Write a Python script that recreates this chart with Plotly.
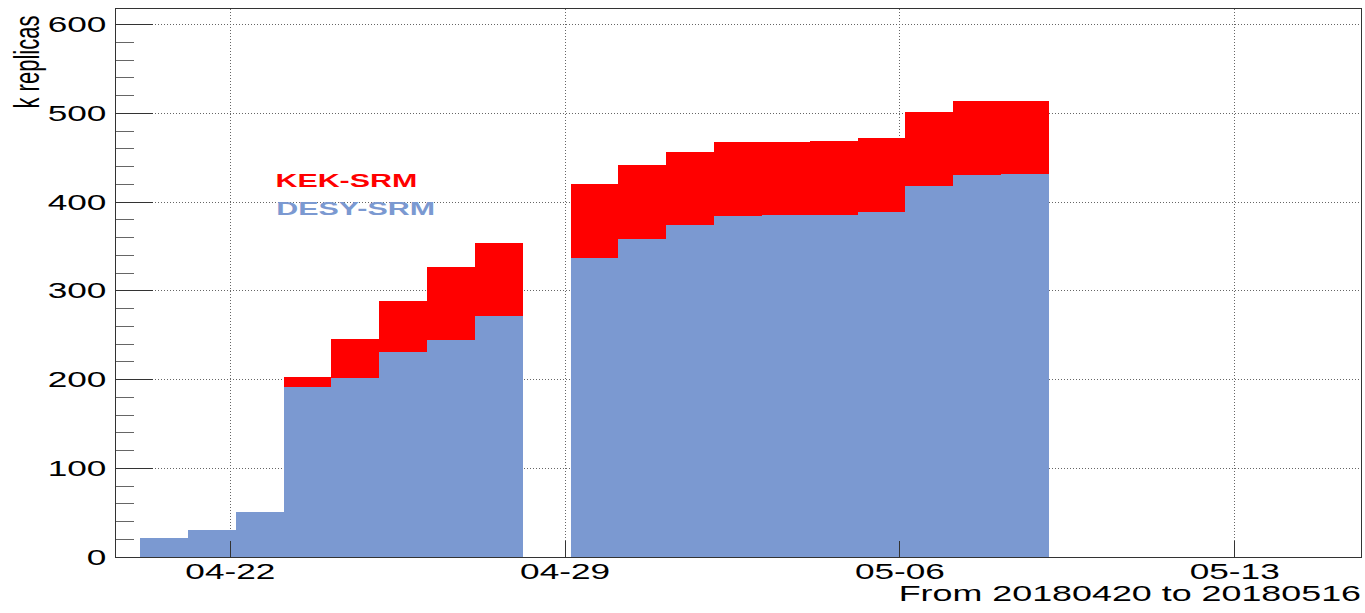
import plotly.graph_objects as go

# ---- data ----
days = ["2018-04-20", "2018-04-21", "2018-04-22", "2018-04-23", "2018-04-24",
        "2018-04-25", "2018-04-26", "2018-04-27", "2018-04-28", "2018-04-29",
        "2018-04-30", "2018-05-01", "2018-05-02", "2018-05-03", "2018-05-04",
        "2018-05-05", "2018-05-06", "2018-05-07", "2018-05-08"]
desy_srm = [21.4, 30.1, 50.4, 191.3, 201.8, 231.1, 244.6, 271.7, None,
            337.1, 358.2, 373.6, 384.1, 385.0, 385.0, 388.6, 417.9, 430.3, 431.1]
kek_srm = [0, 0, 0, 11.3, 43.3, 57.5, 82.0, 81.6, None,
           83.4, 83.4, 82.3, 83.1, 82.2, 83.3, 83.1, 83.1, 83.8, 83.0]
tick_days = ["2018-04-22", "2018-04-29", "2018-05-06", "2018-05-13"]
tick_text = ["04-22", "04-29", "05-06", "05-13"]
y_ticks = [0, 100, 200, 300, 400, 500, 600]

BLUE = "#7B99D1"
RED = "#FF0000"
FONT = "Liberation Sans, Arial, Helvetica, sans-serif"
DAY_MS = 86400000
BAR_OFFSET_MS = int(0.113 * DAY_MS)

fig = go.Figure()
fig.add_trace(go.Bar(x=days, y=desy_srm, name="DESY-SRM", marker=dict(color=BLUE, line=dict(width=0)),
                     width=DAY_MS, offset=BAR_OFFSET_MS))
fig.add_trace(go.Bar(x=days, y=kek_srm, name="KEK-SRM", marker=dict(color=RED, line=dict(width=0)),
                     width=DAY_MS, offset=BAR_OFFSET_MS))

W, H = 1365, 613
L, R, T, B = 116, 4, 9, 56

GRID_DASH = "1px,2px"
fig.update_layout(
    width=W, height=H,
    margin=dict(l=L, r=R, t=T, b=B, pad=0),
    barmode="stack", bargap=0,
    showlegend=False,
    plot_bgcolor="white", paper_bgcolor="white",
    font=dict(family=FONT, size=22, color="black"),
    xaxis=dict(
        type="date",
        range=["2018-04-19 14:38", "2018-05-15 15:22"],
        tickvals=tick_days, ticktext=tick_text,
        ticks="inside", ticklen=16, tickwidth=1.3, tickcolor="#333",
        showgrid=True, gridcolor="#666", griddash=GRID_DASH, gridwidth=1,
        showline=True, linecolor="#333", linewidth=1.3, mirror=True,
        tickfont=dict(size=22, family=FONT),
        ticklabelstandoff=-6,
        zeroline=False,
    ),
    yaxis=dict(
        range=[0, 617.5],
        tickvals=y_ticks,
        ticks="inside", ticklen=37, tickwidth=1.3, tickcolor="#333",
        minor=dict(dtick=20, tick0=0, ticks="inside", ticklen=18, tickwidth=1.3,
                   tickcolor="#666", showgrid=False),
        showgrid=True, gridcolor="#666", griddash=GRID_DASH, gridwidth=1,
        showline=True, linecolor="#333", linewidth=1.3, mirror=True,
        tickfont=dict(size=22, family=FONT),
        ticklabelstandoff=4,
        zeroline=False,
    ),
)

plot_h = H - T - B
plot_w = W - L - R

def px_y(y):
    return (H - B - y) / plot_h

def px_x(x):
    return (x - L) / plot_w

annotations = [
    dict(text="k replicas", textangle=-90, x=px_x(27), y=px_y(62.5), xref="paper", yref="paper",
         xanchor="center", yanchor="middle", showarrow=False, font=dict(size=22, family=FONT)),
    dict(text="From 20180420 to 20180516", x=px_x(1130), y=px_y(594), xref="paper", yref="paper",
         xanchor="center", yanchor="middle", showarrow=False, font=dict(size=22, family=FONT)),
    dict(text="<b>KEK-SRM</b>", x=px_x(346), y=px_y(180), xref="paper", yref="paper",
         xanchor="center", yanchor="middle", showarrow=False, font=dict(size=19, family=FONT, color=RED)),
    dict(text="<b>DESY-SRM</b>", x=px_x(355), y=px_y(208), xref="paper", yref="paper",
         xanchor="center", yanchor="middle", showarrow=False, font=dict(size=19, family=FONT, color=BLUE)),
]
fig.update_layout(annotations=annotations)

# The reference image is horizontally stretched (~1.6x); widen text glyphs the same way.
post_js = """
document.body.style.margin = '0';
var gd = document.getElementById('{plot_id}');
gd.querySelectorAll('.xtick text, .ytick text, .annotation text').forEach(function(el){
  var bb = el.getBBox();
  var t = el.getAttribute('transform') || '';
  var ann = el.closest('.annotation');
  var idx = ann ? ann.getAttribute('data-index') : null;
  var S = (idx === '1') ? 1.63 : 1.6;
  if (idx === '0') {
    var cy = bb.y + bb.height / 2;
    el.setAttribute('transform', t + ' translate(0,' + cy + ') scale(1,' + S + ') translate(0,' + (-cy) + ')');
  } else {
    var a = el.getAttribute('text-anchor') || 'start';
    var cx = a === 'middle' ? bb.x + bb.width / 2 : (a === 'end' ? bb.x + bb.width : bb.x);
    el.setAttribute('transform', t + ' translate(' + cx + ',0) scale(' + S + ',1) translate(' + (-cx) + ',0)');
  }
});
"""

fig.write_html("out.html", post_script=post_js, config={"displayModeBar": False})
